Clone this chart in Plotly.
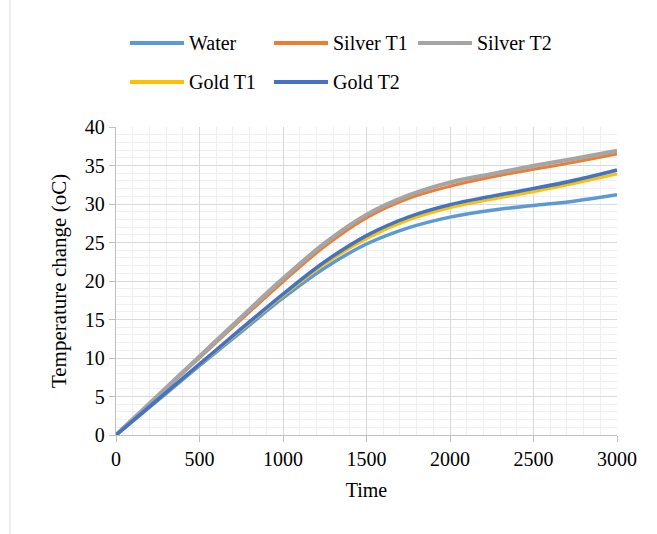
import plotly.graph_objects as go

# Time samples (s)
time = [0, 250, 500, 750, 1000, 1250, 1500, 1750, 2000, 2250, 2500, 2750, 3000]

# Temperature change per fluid (oC)
water = [0, 4.5, 9.0, 13.4, 17.8, 21.7, 24.8, 26.9, 28.3, 29.2, 29.8, 30.4, 31.2]
silver_t1 = [0, 5.0, 10.0, 15.0, 19.9, 24.5, 28.2, 30.7, 32.3, 33.5, 34.5, 35.45, 36.5]
silver_t2 = [0, 5.1, 10.2, 15.3, 20.3, 24.9, 28.6, 31.1, 32.8, 33.9, 34.95, 35.9, 36.9]
gold_t1 = [0, 4.55, 9.1, 13.65, 18.1, 22.2, 25.5, 27.9, 29.5, 30.6, 31.6, 32.7, 33.9]
gold_t2 = [0, 4.6, 9.2, 13.8, 18.3, 22.5, 25.9, 28.3, 29.9, 31.0, 32.0, 33.1, 34.4]

names = ["Water", "Silver T1", "Silver T2", "Gold T1", "Gold T2"]
series = [water, silver_t1, silver_t2, gold_t1, gold_t2]
colors = ["#5B9BD5", "#ED7D31", "#A5A5A5", "#FFC000", "#4472C4"]
widths = [3.5, 3, 4.2, 3, 3.6]

W, H = 657, 534
L, R, T, B = 116, 40, 127, 99
PW, PH = W - L - R, H - T - B

def px_x(p):
    return (p - L) / PW

def px_y(p):
    return (H - B - p) / PH

FONT = "Liberation Serif, Times New Roman, serif"

fig = go.Figure()
for name, ys, c, w in zip(names, series, colors, widths):
    fig.add_trace(go.Scatter(
        x=time, y=ys, name=name, mode="lines",
        line=dict(color=c, width=w, shape="spline", smoothing=1.0),
        showlegend=False,
    ))

# Legend: two rows, line sample followed by label
legend_pos = [(130, 43), (274, 43), (418, 43), (130, 82), (274, 82)]
shapes = []
annotations = []
for (lx, ly), name, c in zip(legend_pos, names, colors):
    shapes.append(dict(type="line", xref="paper", yref="paper",
                       x0=px_x(lx), x1=px_x(lx + 54), y0=px_y(ly), y1=px_y(ly),
                       line=dict(color=c, width=4)))
    annotations.append(dict(text=name, xref="paper", yref="paper",
                            x=px_x(lx + 57), y=px_y(ly), xanchor="left", yanchor="middle",
                            showarrow=False, font=dict(family=FONT, size=20, color="#000000")))

# Outer frame edge on the left
shapes.append(dict(type="line", xref="paper", yref="paper",
                   x0=px_x(10), x1=px_x(10), y0=px_y(0), y1=px_y(H),
                   line=dict(color="#d9d9d9", width=1)))

fig.update_layout(
    width=W, height=H,
    margin=dict(l=L, r=R, t=T, b=B),
    paper_bgcolor="white", plot_bgcolor="white",
    font=dict(family=FONT, size=20, color="#000000"),
    shapes=shapes, annotations=annotations,
    xaxis=dict(
        range=[0, 3000], dtick=500, tick0=0,
        showgrid=True, gridcolor="#d9d9d9", gridwidth=1.3,
        minor=dict(dtick=100, showgrid=True, gridcolor="#efefef", gridwidth=1.2),
        showline=True, linecolor="#bfbfbf", linewidth=1.3,
        ticks="outside", ticklen=6, tickcolor="#bfbfbf",
        zeroline=False,
        title=dict(text="Time", font=dict(family=FONT, size=20), standoff=13),
        tickfont=dict(family=FONT, size=20),
    ),
    yaxis=dict(
        range=[0, 40], dtick=5, tick0=0,
        showgrid=True, gridcolor="#d9d9d9", gridwidth=1.3,
        minor=dict(dtick=1, showgrid=True, gridcolor="#efefef", gridwidth=1.2),
        showline=True, linecolor="#bfbfbf", linewidth=1.3,
        ticks="outside", ticklen=6, tickcolor="#bfbfbf",
        zeroline=False,
        title=dict(text="Temperature change (oC)", font=dict(family=FONT, size=21), standoff=12),
        tickfont=dict(family=FONT, size=20),
    ),
)

fig.write_html("out.html")
